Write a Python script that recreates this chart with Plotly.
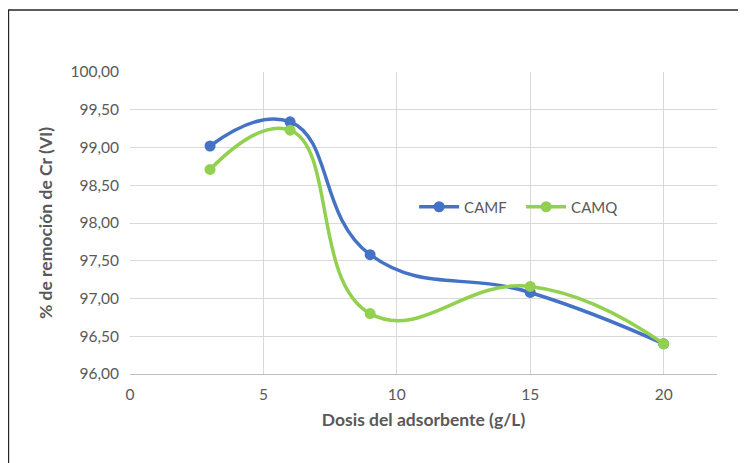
import plotly.graph_objects as go

dosis = [3, 6, 9, 15, 20]
camf = [99.02, 99.34, 97.58, 97.08, 96.40]
camq = [98.71, 99.23, 96.80, 97.16, 96.40]
x_ticks = [0, 5, 10, 15, 20]
y_ticks = [96.0, 96.5, 97.0, 97.5, 98.0, 98.5, 99.0, 99.5, 100.0]

FONT = "Lato"
GREY = "#595959"

fig = go.Figure()
fig.add_trace(go.Scatter(
    x=dosis, y=camf, name="CAMF", mode="lines+markers",
    line=dict(color="#4472C4", width=3.5, shape="spline", smoothing=1.3),
    marker=dict(color="#4472C4", size=11),
))
fig.add_trace(go.Scatter(
    x=dosis, y=camq, name="CAMQ", mode="lines+markers",
    line=dict(color="#92D050", width=3.5, shape="spline", smoothing=1.3),
    marker=dict(color="#92D050", size=11),
))

fig.update_layout(
    width=738, height=455,
    margin=dict(l=122, r=29, t=64, b=89),
    paper_bgcolor="white", plot_bgcolor="white",
    separators=",.",
    font=dict(family=FONT, color=GREY, size=15),
    showlegend=True,
    legend=dict(orientation="h", x=0.484, y=0.553, xanchor="left", yanchor="middle",
                bgcolor="rgba(0,0,0,0)", font=dict(size=15, color=GREY),
                itemwidth=40, entrywidth=52, entrywidthmode="pixels"),
    xaxis=dict(range=[0, 22], tickvals=x_ticks, showgrid=True, gridcolor="#D9D9D9",
               gridwidth=1, zeroline=False, showline=True, linecolor="#BFBFBF",
               ticks="", ticklabelstandoff=6, tickfont=dict(size=15.5, color=GREY),
               title=dict(text="<b>Dosis del adsorbente (g/L)</b>", font=dict(size=17.5, color=GREY),
                          standoff=12)),
    yaxis=dict(range=[96, 100], tickvals=y_ticks, tickformat=".2f", showgrid=True,
               gridcolor="#D9D9D9", gridwidth=1, zeroline=False, showline=False,
               ticks="", ticklabelstandoff=10, tickfont=dict(size=15.5, color=GREY),
               title=dict(text="<b>% de remoción de Cr (VI)</b>", font=dict(size=17.5, color=GREY),
                          standoff=13)),
    shapes=[dict(type="rect", xref="paper", yref="paper", x0=-0.2071, x1=1.2,
                 y0=-0.5, y1=1.205, line=dict(color="#262626", width=1.5),
                 fillcolor="rgba(0,0,0,0)", layer="below")],
)

fig.write_html("out.html")
